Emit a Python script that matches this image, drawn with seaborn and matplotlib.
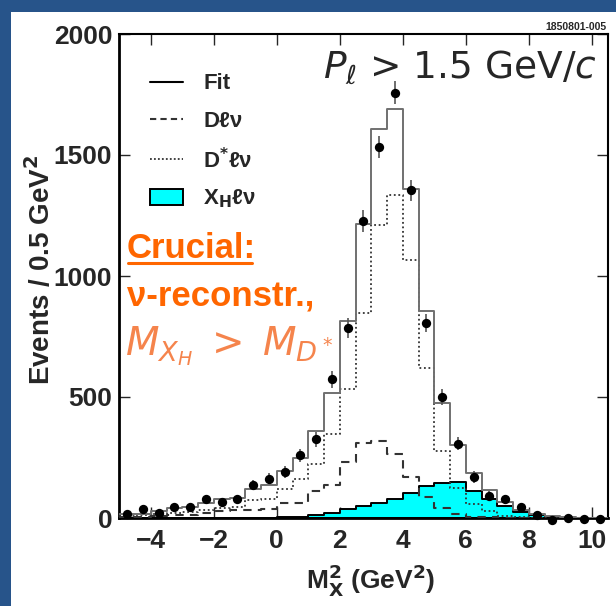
import numpy as np
import pandas as pd
import matplotlib
matplotlib.use("Agg")
import matplotlib.pyplot as plt
import matplotlib.transforms as mtransforms
import seaborn as sns
from matplotlib.lines import Line2D
from matplotlib.patches import Patch, Rectangle

# ---------------- data ----------------
bin_edges = [-5.0, -4.5, -4.0, -3.5, -3.0, -2.5, -2.0, -1.5, -1.0, -0.5, 0.0,
             0.5, 1.0, 1.5, 2.0, 2.5, 3.0, 3.5, 4.0, 4.5, 5.0,
             5.5, 6.0, 6.5, 7.0, 7.5, 8.0, 8.5, 9.0, 9.5, 10.0, 10.5]
bin_centers = [-4.75, -4.25, -3.75, -3.25, -2.75, -2.25, -1.75, -1.25, -0.75, -0.25,
               0.25, 0.75, 1.25, 1.75, 2.25, 2.75, 3.25, 3.75, 4.25, 4.75,
               5.25, 5.75, 6.25, 6.75, 7.25, 7.75, 8.25, 8.75, 9.25, 9.75, 10.25]
fit_counts = [16, 17, 29, 40, 45, 61, 78, 82, 118, 135,
              194, 249, 360, 515, 814, 1214, 1606, 1689, 1358, 856,
              474, 302, 188, 114, 65, 34, 15, 7, 3, 2, 1]
dlnu_counts = [6, 6, 10, 12, 14, 20, 30, 33, 34, 36,
               60, 62, 110, 135, 231, 311, 318, 263, 168, 87,
               43, 15, 5, 3, 2, 1, 1, 0, 0, 0, 0]
dstar_counts = [10, 12, 18, 22, 25, 35, 43, 45, 75, 80,
                118, 160, 222, 348, 532, 846, 1209, 1334, 1068, 621,
                277, 124, 58, 29, 8, 3, 1, 0, 0, 0, 0]
xh_counts = [0, 0, 0, 0, 0, 0, 0, 1, 1, 2,
             3, 6, 12, 22, 36, 50, 63, 80, 102, 134,
             143, 147, 110, 77, 50, 26, 11, 3, 1, 0, 0]
data_counts = [16, 39, 20, 45, 46, 78, 67, 80, 136, 163,
               191, 259, 325, 573, 785, 1227, 1533, 1757, 1354, 807,
               500, 307, 169, 91, 77, 45, 12, -8, -2, -4, -4]
data_errors = [12, 13, 12, 14, 14, 16, 15, 16, 20, 22,
               24, 28, 32, 36, 40, 44, 46, 47, 44, 38,
               32, 28, 24, 20, 18, 16, 14, 12, 12, 12, 12]
x_ticks = [-4, -2, 0, 2, 4, 6, 8, 10]
y_ticks = [0, 500, 1000, 1500, 2000]
legend_labels = ["Fit", "Dℓν", "D$^{\\mathbf{*}}$ℓν", "X$_{\\mathbf{H}}$ℓν"]

df = pd.DataFrame({"x": bin_centers, "fit": fit_counts, "dlnu": dlnu_counts,
                   "dstar": dstar_counts, "xh": xh_counts,
                   "data": data_counts, "err": data_errors})

# ---------------- style ----------------
sns.set_style("ticks")
plt.rcParams["font.family"] = ["Liberation Sans", "DejaVu Sans"]
plt.rcParams["font.weight"] = "normal"
plt.rcParams["axes.unicode_minus"] = True

W, H = 616, 606
fig = plt.figure(figsize=(W / 100, H / 100), dpi=100)
fig.patch.set_facecolor("white")
blue = "#27548a"
fig.patches.append(Rectangle((0, 0), 11 / W, 1, transform=fig.transFigure,
                             facecolor=blue, edgecolor="none", zorder=0))
fig.patches.append(Rectangle((0, 1 - 12 / H), 1, 12 / H, transform=fig.transFigure,
                             facecolor=blue, edgecolor="none", zorder=0))

ax = fig.add_axes([119.3 / W, 1 - 518 / H, 488.2 / W, 484 / H])
ax.set_facecolor("white")

# cyan X_H l nu
sns.histplot(data=df, x="x", weights="xh", bins=bin_edges, element="step",
             fill=True, color="#00ffff", alpha=1.0, edgecolor="black",
             linewidth=1.4, ax=ax, zorder=2)
# D* l nu dotted
sns.histplot(data=df, x="x", weights="dstar", bins=bin_edges, element="step",
             fill=False, color="#333333", linewidth=1.3, linestyle=(0, (1, 1.5)),
             ax=ax, zorder=3)
# D l nu dashed
sns.histplot(data=df, x="x", weights="dlnu", bins=bin_edges, element="step",
             fill=False, color="#333333", linewidth=1.5, linestyle=(0, (4, 3)),
             ax=ax, zorder=3)
# Fit solid
sns.histplot(data=df, x="x", weights="fit", bins=bin_edges, element="step",
             fill=False, color="#707070", linewidth=1.4, ax=ax, zorder=4)

# data points
ax.errorbar(df["x"], df["data"], yerr=df["err"], fmt="none", ecolor="#555555",
            elinewidth=1.2, capsize=0, zorder=5, clip_on=False)
sns.scatterplot(data=df, x="x", y="data", color="black", s=45, linewidth=0,
                ax=ax, zorder=6, clip_on=False)

ax.set_xlim(-5.0, 10.5)
ax.set_ylim(0, 2000)
ax.set_xticks(x_ticks)
ax.set_yticks(y_ticks)
ax.tick_params(direction="in", top=True, right=True, length=8, width=1.0,
               labelsize=19, labeltop=False, labelright=False)
ax.tick_params(axis="x", pad=8)
ax.tick_params(axis="y", pad=5)
for lab in ax.get_xticklabels() + ax.get_yticklabels():
    lab.set_fontweight("bold")
for side in ["left", "bottom"]:
    ax.spines[side].set_linewidth(2.0)
for side in ["top", "right"]:
    ax.spines[side].set_linewidth(1.5)
for s in ax.spines.values():
    s.set_color("black")
ax.grid(False)

ax.set_xlabel("M$^{\\mathbf{2}}_{\\mathbf{X}}$ (GeV$^{\\mathbf{2}}$)", fontsize=19,
              fontweight="bold")
ax.xaxis.set_label_coords(0.516, -0.128)
ax.xaxis.label.set_va("center")
ax.set_ylabel("Events / 0.5 GeV$^{\\mathbf{2}}$", fontsize=20, fontweight="bold")
ax.yaxis.set_label_coords(-0.162, 0.512)
ax.yaxis.label.set_va("center")

# legend
handles = [Line2D([], [], color="black", lw=1.5),
           Line2D([], [], color="#333333", lw=1.5, linestyle=(0, (3, 2))),
           Line2D([], [], color="#333333", lw=1.3, linestyle=(0, (1, 1.2))),
           Patch(facecolor="#00ffff", edgecolor="black", linewidth=1.4)]
ax.legend(handles, legend_labels, loc="upper left", bbox_to_anchor=(0.044, 0.937),
          frameon=False, prop={"size": 16, "weight": "bold"}, handlelength=1.5,
          handletextpad=0.9, labelspacing=0.72, borderaxespad=0)

# annotations
ax.text(0.978, 0.932, "$P_\\ell$ > 1.5 GeV/$c$", transform=ax.transAxes,
        ha="right", va="center", fontsize=27, fontweight="normal",
        family="DejaVu Sans")
fig.text(607 / W, 1 - 26.5 / H, "1850801-005", ha="right", va="center",
         fontsize=7.5, fontweight="bold")

orange = "#ff6600"
t_cru = fig.text(127 / W, 1 - 248 / H, "Crucial:", ha="left", va="center",
                 fontsize=25, fontweight="bold", color=orange)
fig.text(127 / W, 1 - 297 / H, "ν-reconstr.,", ha="left", va="center",
         fontsize=25, fontweight="bold", color=orange)
fig.text(125 / W, 1 - 346 / H, "$M_{X_H}\\;>\\;M_{D^*}$", ha="left", va="center",
         fontsize=28, fontweight="normal", color="#f5844c")

fig.canvas.draw()
bb = t_cru.get_window_extent()
fig.add_artist(Line2D([bb.x0 + 1, bb.x1 - 4], [bb.y0 + 2, bb.y0 + 2], color=orange,
                      lw=2.2, transform=mtransforms.IdentityTransform()))

fig.savefig("out.png", dpi=100, facecolor=fig.get_facecolor())
